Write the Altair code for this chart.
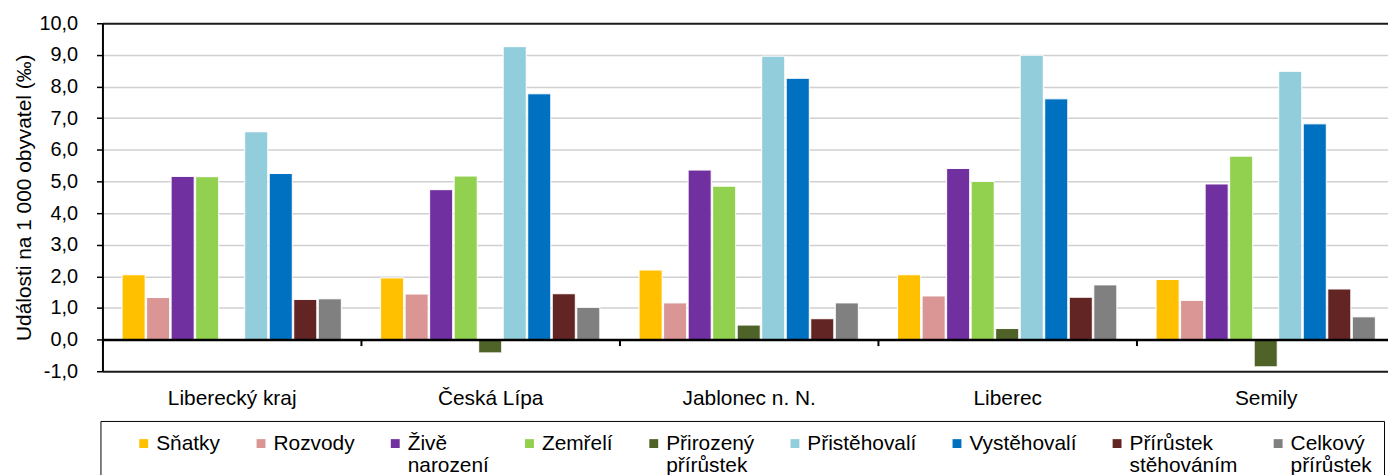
import altair as alt
import pandas as pd

FONT = "Liberation Sans"

categories = ["Liberecký kraj", "Česká Lípa", "Jablonec n. N.", "Liberec", "Semily"]
series = ["Sňatky", "Rozvody", "Živě narození", "Zemřelí", "Přirozený přírůstek",
          "Přistěhovalí", "Vystěhovalí", "Přírůstek stěhováním", "Celkový přírůstek"]
colors = ["#FFC000", "#DA9694", "#7030A0", "#92D050", "#4F6228",
          "#92CDDC", "#0070C0", "#632523", "#808080"]

snatky = [2.05, 1.95, 2.20, 2.05, 1.90]
rozvody = [1.33, 1.44, 1.16, 1.38, 1.24]
zive_narozeni = [5.16, 4.74, 5.36, 5.41, 4.92]
zemreli = [5.15, 5.17, 4.85, 5.00, 5.80]
prirozeny = [0.02, -0.42, 0.46, 0.35, -0.86]
pristehovali = [6.57, 9.26, 8.96, 8.99, 8.48]
vystehovali = [5.25, 7.77, 8.26, 7.61, 6.82]
prirustek_steh = [1.27, 1.45, 0.66, 1.34, 1.60]
celkovy = [1.29, 1.02, 1.16, 1.73, 0.72]

y_ticks = list(range(-1, 11))

values = [snatky, rozvody, zive_narozeni, zemreli, prirozeny,
          pristehovali, vystehovali, prirustek_steh, celkovy]
rows = []
for s, vals in zip(series, values):
    for c, v in zip(categories, vals):
        rows.append({"okres": c, "ukazatel": s, "hodnota": v})
df = pd.DataFrame(rows)

PLOT_W = 1300
PLOT_H = 350
unit_px = PLOT_H / 11.0

NBSP = "\u00a0"
legend_label_expr = (
    "datum.label == 'Celkový přírůstek' ? ['Celkový', 'přírůstek" + NBSP * 10 + "'] : "
    "(indexof(datum.label, ' ') >= 0 ? split(datum.label, ' ') : [datum.label, ' '])"
)

chart = alt.Chart(df).mark_bar(stroke="white", strokeWidth=1).encode(
    x=alt.X(
        "okres:N", sort=categories,
        scale=alt.Scale(paddingInner=0, paddingOuter=0),
        axis=alt.Axis(
            title=None, labelAngle=0, labelFont=FONT, labelFontSize=21, labelColor="black",
            offset=-unit_px, domainColor="black", domainWidth=2.5,
            tickColor="black", tickWidth=2, tickSize=6, tickBand="extent",
            labelPadding=42, grid=False, zindex=1,
        ),
    ),
    xOffset=alt.XOffset(
        "ukazatel:N", sort=series,
        scale=alt.Scale(paddingInner=0.06, paddingOuter=0.8),
    ),
    y=alt.Y(
        "hodnota:Q",
        scale=alt.Scale(domain=[-1, 10], nice=False),
        axis=alt.Axis(
            title="Události na 1 000 obyvatel (‰)", titleFont=FONT, titleFontSize=21,
            titleFontWeight="normal", titleColor="black", titlePadding=4,
            values=y_ticks,
            labelExpr="(datum.value < 0 ? '-' : '') + replace(format(abs(datum.value), '.1f'), '.', ',')",
            labelFont=FONT, labelFontSize=20, labelColor="black", labelPadding=19,
            tickSize=6, tickColor="black", tickWidth=1.5,
            domainColor="black", domainWidth=2,
            grid=True,
            gridColor={"condition": {"test": "datum.value == 10 || datum.value == -1", "value": "#1a1a1a"},
                       "value": "#d0d0d0"},
            gridWidth={"condition": {"test": "datum.value == 10 || datum.value == -1", "value": 2},
                       "value": 1.5},
        ),
    ),
    color=alt.Color(
        "ukazatel:N", sort=series,
        scale=alt.Scale(domain=series, range=colors),
        legend=alt.Legend(
            title=None, orient="none", legendX=-2, legendY=400,
            direction="horizontal", columns=9,
            labelFont=FONT, labelFontSize=21, labelColor="black",
            labelExpr=legend_label_expr, labelLimit=400,
            symbolType="square", symbolSize=80, symbolStrokeWidth=0,
            symbolOffset=21, labelOffset=2,
            strokeColor="black", fillColor="white", padding=12,
            columnPadding=9, rowPadding=0,
        ),
    ),
).properties(
    width=PLOT_W, height=PLOT_H,
    padding={"left": 95, "top": 14, "right": -7, "bottom": 103},
    autosize=alt.AutoSizeParams(type="none"),
).configure_view(stroke=None)

chart.save("out.html", embed_options={"renderer": "svg", "actions": False})
